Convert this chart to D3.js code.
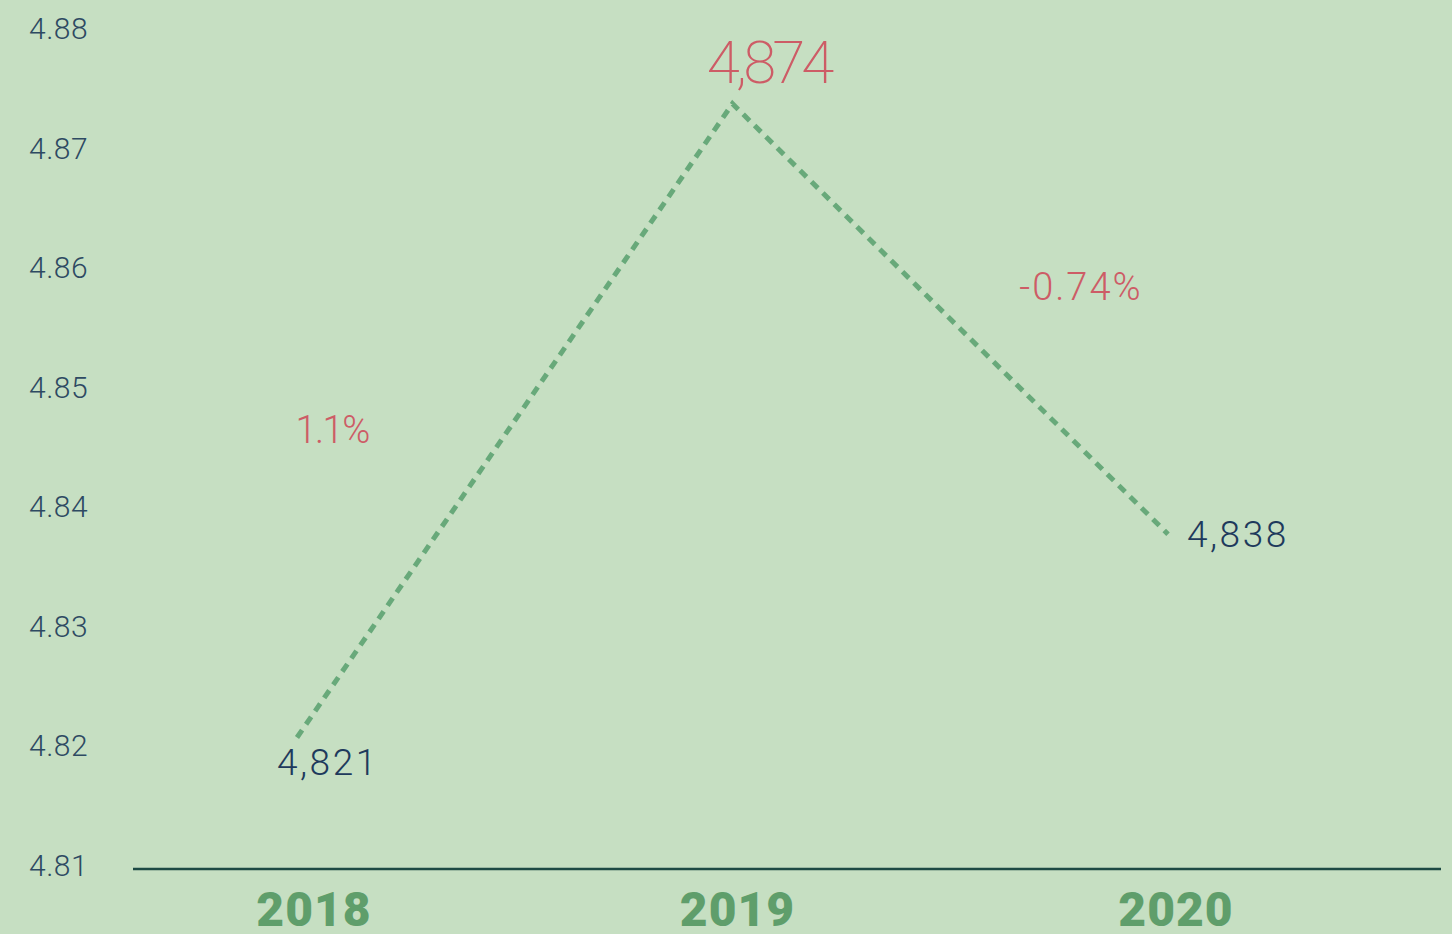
<!DOCTYPE html>
<html>
	<head>
		<meta charset="utf-8">
		<title>Chart</title>
		<script type="text/javascript" src="https://cdn.jsdelivr.net/npm/d3@7/dist/d3.min.js"></script>
		<style type="text/css">
			html, body{
				margin: 0;
				padding: 0;
				background-color: #c6dfc2;
			}
			svg{
				display: block;
			}
		</style>
	</head>
	<body>
		<svg id="chart" width="1452" height="934"></svg>
	</body>
	<script type="text/javascript">

		// data
		const years = ["2018", "2019", "2020"];
		const values = [4.821, 4.874, 4.838];
		const valueLabels = ["4,821", "4,874", "4,838"];
		const changeLabels = ["1.1%", "-0.74%"];
		const yTicks = [4.81, 4.82, 4.83, 4.84, 4.85, 4.86, 4.87, 4.88];

		const width = 1452, height = 934;

		let svg = d3.select("#chart");

		svg.append("rect")
			.attr("width", width)
			.attr("height", height)
			.attr("fill", "#c6dfc2");

		let xScale = d3.scalePoint()
					.domain(years)
					.range([297, 1168]);

		let yScale = d3.scaleLinear()
					.domain([4.81, 4.88])
					.range([869, 32]);

		// y tick labels
		svg.selectAll("text.ytick")
			.data(yTicks)
			.enter()
			.append("text")
			.attr("class", "ytick")
			.text(function(d){ return d3.format(".2f")(d); })
			.attr("x", 29)
			.attr("y", function(d){ return yScale(d) + 7; })
			.attr("font-family", "Roboto")
			.attr("font-weight", 300)
			.attr("font-size", "30px")
			.attr("letter-spacing", "0.5px")
			.attr("fill", "#2e4a62");

		// baseline
		svg.append("line")
			.attr("x1", 133)
			.attr("x2", 1441)
			.attr("y1", yScale(4.81))
			.attr("y2", yScale(4.81))
			.attr("stroke", "#1d4a44")
			.attr("stroke-width", 2.5);

		// year labels
		const yearShift = [17, 5, 8];

		svg.selectAll("text.year")
			.data(years)
			.enter()
			.append("text")
			.attr("class", "year")
			.text(function(d){ return d; })
			.attr("x", function(d, i){ return xScale(d) + yearShift[i]; })
			.attr("y", 926)
			.attr("text-anchor", "middle")
			.attr("font-family", "Roboto")
			.attr("font-weight", 900)
			.attr("font-size", "48px")
			.attr("letter-spacing", "1px")
			.attr("fill", "#5f9e6b");

		// dashed line
		let line = d3.line()
					.x(function(d, i){ return xScale(years[i]); })
					.y(function(d){ return yScale(d); });

		svg.append("path")
			.datum(values)
			.attr("d", line)
			.attr("fill", "none")
			.attr("stroke", "#68a97a")
			.attr("stroke-width", 5)
			.attr("stroke-dasharray", "9 7");

		// value labels
		const labelStyle = [
			{dx: -20, dy: 38, anchor: "start", size: 37, weight: 300, color: "#1e3a5c", spacing: 2.5},
			{dx: 36, dy: -21, anchor: "middle", size: 60, weight: 200, color: "#cd5c66", spacing: -4},
			{dx: 19, dy: 13, anchor: "start", size: 37, weight: 300, color: "#1e3a5c", spacing: 2.5}
		];

		svg.selectAll("text.value")
			.data(values)
			.enter()
			.append("text")
			.attr("class", "value")
			.text(function(d, i){ return valueLabels[i]; })
			.attr("x", function(d, i){ return xScale(years[i]) + labelStyle[i].dx; })
			.attr("y", function(d, i){ return yScale(d) + labelStyle[i].dy; })
			.attr("text-anchor", function(d, i){ return labelStyle[i].anchor; })
			.attr("font-family", "Roboto")
			.attr("font-weight", function(d, i){ return labelStyle[i].weight; })
			.attr("font-size", function(d, i){ return labelStyle[i].size + "px"; })
			.attr("letter-spacing", function(d, i){ return labelStyle[i].spacing + "px"; })
			.attr("fill", function(d, i){ return labelStyle[i].color; });

		// change labels at segment middles
		const changeStyle = [
			{dx: -146, dy: 22, anchor: "end", spacing: -1.5},
			{dx: 69, dy: -19, anchor: "start", spacing: 2}
		];

		svg.selectAll("text.change")
			.data(changeLabels)
			.enter()
			.append("text")
			.attr("class", "change")
			.text(function(d){ return d; })
			.attr("x", function(d, i){
				let mx = (xScale(years[i]) + xScale(years[i + 1])) / 2;
				return mx + changeStyle[i].dx;
			})
			.attr("y", function(d, i){
				let my = (yScale(values[i]) + yScale(values[i + 1])) / 2;
				return my + changeStyle[i].dy;
			})
			.attr("text-anchor", function(d, i){ return changeStyle[i].anchor; })
			.attr("font-family", "Roboto")
			.attr("font-weight", 300)
			.attr("font-size", "38px")
			.attr("letter-spacing", function(d, i){ return changeStyle[i].spacing + "px"; })
			.attr("fill", "#cd5c66");

	</script>
</html>
